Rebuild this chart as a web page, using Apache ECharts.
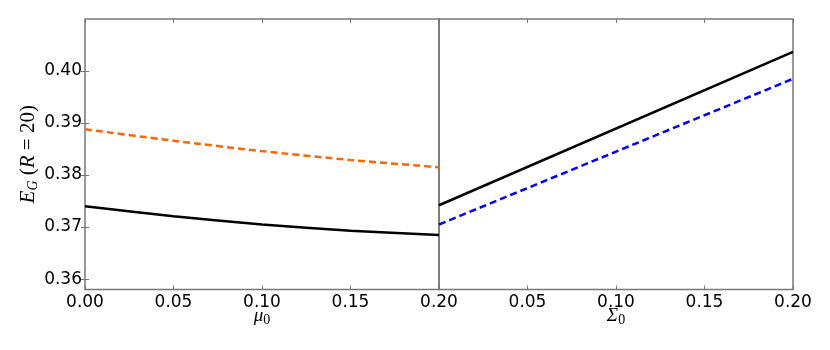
<!DOCTYPE html>
<html>
<head>
<meta charset="utf-8">
<script src="https://cdn.jsdelivr.net/npm/echarts@6/dist/echarts.min.js"></script>
<style>
  html, body { margin: 0; padding: 0; background: #fff; }
  #chart { width: 830px; height: 350px; }
</style>
</head>
<body>
<div id="chart"></div>
<script>
// left panel: E_G vs mu_0
var muValues = [0.00, 0.05, 0.10, 0.15, 0.20];
var muOrange = [0.3888, 0.3866, 0.3846, 0.3829, 0.3815];
var muBlack = [0.3740, 0.3721, 0.3705, 0.3693, 0.3685];
// right panel: E_G vs Sigma_0
var sigmaValues = [0.00, 0.20];
var sigmaBlack = [0.3742, 0.4037];
var sigmaBlue = [0.3705, 0.3985];
// tick labels
var yTicks = [0.36, 0.37, 0.38, 0.39, 0.40];

function pairs (xs, ys) {
  return xs.map((x, i) => [x, ys[i]]);
}

var chart = echarts.init(document.getElementById('chart'));
var tickFont = { fontFamily: 'DejaVu Sans', fontSize: 17, color: '#000' };
var grey = '#777';

function xAxisOf (grid, name, hideZero) {
  return {
    type: 'value',
    gridIndex: grid,
    min: 0,
    max: 0.2,
    interval: 0.05,
    axisLine: { show: false },
    splitLine: { show: false },
    axisTick: { inside: true, length: 4, lineStyle: { color: grey } },
    axisLabel: Object.assign({
      margin: 5,
      showMinLabel: true,
      showMaxLabel: true,
      formatter: v => (hideZero && v === 0) ? '' : v.toFixed(2),
    }, tickFont),
    name: name,
    nameLocation: 'middle',
    nameGap: 15,
    nameMoveOverlap: false,
    nameTextStyle: {
      rich: {
        i: { fontFamily: 'Liberation Serif', fontStyle: 'italic', fontSize: 19, color: '#000' },
        s: { fontFamily: 'Liberation Serif', fontSize: 14, color: '#000', verticalAlign: 'bottom', padding: [9, 0, 0, 0] },
      },
    },
  };
}

function yAxisOf (grid, pos, labels) {
  return {
    type: 'value',
    gridIndex: grid,
    position: pos,
    min: 0.358,
    max: 0.41,
    axisLine: { show: false },
    splitLine: { show: false },
    axisTick: { show: true, inside: true, length: 4, customValues: yTicks, lineStyle: { color: grey } },
    axisLabel: Object.assign({
      show: labels,
      margin: 3,
      customValues: yTicks,
      formatter: v => v.toFixed(2),
    }, tickFont),
  };
}

var yMain = yAxisOf(0, 'left', true);
yMain.name = '{i|E}{s|G}{n| (}{i|R}{n| = 20)}';
yMain.nameLocation = 'middle';
yMain.nameGap = 45;
yMain.nameMoveOverlap = false;
yMain.nameRotate = 90;
yMain.nameTextStyle = {
  rich: {
    i: { fontFamily: 'Liberation Serif', fontStyle: 'italic', fontSize: 21, color: '#000' },
    n: { fontFamily: 'Liberation Serif', fontSize: 21, color: '#000' },
    s: { fontFamily: 'Liberation Serif', fontStyle: 'italic', fontSize: 14, color: '#000', verticalAlign: 'bottom', padding: [9, 0, 0, 0] },
  },
};

var yRightTicks = yAxisOf(0, 'right', false);
var ySecond = yAxisOf(1, 'left', false);
ySecond.axisTick.show = false;

var option = {
  animation: false,
  backgroundColor: '#fff',
  grid: [
    { left: 85, right: 391, top: 19, bottom: 60.5, show: true, borderColor: grey, borderWidth: 1.5 },
    { left: 439, right: 37, top: 19, bottom: 60.5, show: true, borderColor: grey, borderWidth: 1.5 },
  ],
  xAxis: [
    xAxisOf(0, '{i|μ}{s|0}', false),
    xAxisOf(1, '{i|Σ}{s|0}', true),
    Object.assign(xAxisOf(0, '', false), { position: 'top', axisLabel: { show: false }, name: '' }),
    Object.assign(xAxisOf(1, '', false), { position: 'top', axisLabel: { show: false }, name: '' }),
  ],
  yAxis: [yMain, ySecond, yRightTicks],
  series: [
    {
      type: 'line', xAxisIndex: 0, yAxisIndex: 0,
      data: pairs(muValues, muOrange),
      smooth: 0.25, showSymbol: false,
      lineStyle: { color: '#ff6600', width: 2.5, type: [7, 4] },
    },
    {
      type: 'line', xAxisIndex: 0, yAxisIndex: 0,
      data: pairs(muValues, muBlack),
      smooth: 0.25, showSymbol: false,
      lineStyle: { color: '#000', width: 2.5 },
    },
    {
      type: 'line', xAxisIndex: 1, yAxisIndex: 1,
      data: pairs(sigmaValues, sigmaBlack),
      showSymbol: false,
      lineStyle: { color: '#000', width: 2.5 },
    },
    {
      type: 'line', xAxisIndex: 1, yAxisIndex: 1,
      data: pairs(sigmaValues, sigmaBlue),
      showSymbol: false,
      lineStyle: { color: '#0000ff', width: 2.5, type: [7, 4] },
    },
  ],
};

chart.setOption(option);
</script>
</body>
</html>
